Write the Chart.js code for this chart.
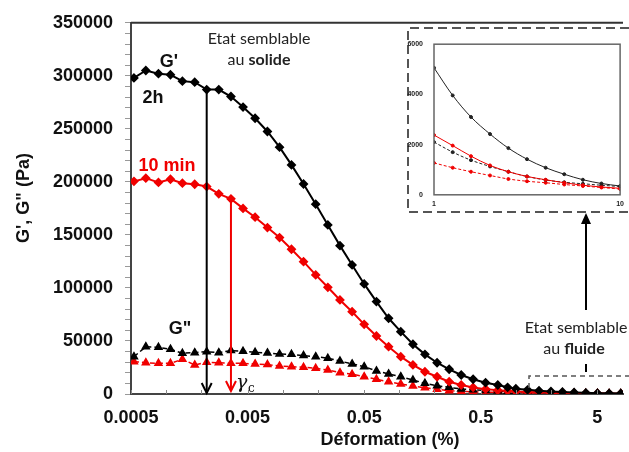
<!DOCTYPE html>
<html>
<head>
<meta charset="utf-8">
<script src="https://cdn.jsdelivr.net/npm/chart.js@4.4.0/dist/chart.umd.min.js"></script>
<style>
  html, body { margin: 0; padding: 0; background: #fff; }
  #wrap { position: relative; width: 629px; height: 452px; overflow: hidden; }
  #mainChart { position: absolute; left: 0; top: 0; }
  #insetChart { position: absolute; left: 400px; top: 29px; }
</style>
</head>
<body>
<div id="wrap">
  <canvas id="mainChart" width="629" height="452"></canvas>
  <canvas id="insetChart" width="229" height="181"></canvas>
</div>
<script>
// Déformation (%) - abscisse commune aux 4 courbes
var deformation = [0.00053, 0.00067, 0.00086, 0.00109, 0.00138, 0.00176, 0.00223, 0.00283, 0.0036, 0.00457,
    0.0058, 0.0074, 0.0094, 0.0119, 0.0151, 0.0192, 0.0244, 0.031, 0.0394, 0.05,
    0.0637, 0.081, 0.103, 0.131, 0.166, 0.211, 0.268, 0.34, 0.43, 0.55,
    0.70, 0.85, 1, 1.26, 1.58, 2, 2.51, 3.16, 3.98, 5.01, 6.31, 7.94, 10];

// G' (module élastique)
var gPrime2h = [298000, 305000, 302000, 301000, 295000, 294000, 287000, 287000, 280500, 270500,
    260000, 247500, 232700, 216000, 198000, 179000, 159400, 139900, 121700, 103800,
    87100, 71400, 58800, 46900, 37400, 29500, 23300, 17900, 13900, 10700,
    8500, 6300, 5060, 3960, 3100, 2420, 1860, 1420, 1080, 820, 600, 450, 350];
var gPrime10min = [200500, 203500, 199500, 202500, 198800, 197800, 195600, 188700, 184000, 175000,
    166700, 156900, 147500, 136500, 124800, 112300, 100600, 88700, 77600, 65700,
    54700, 44600, 35200, 27400, 21000, 16300, 11600, 8500, 6200, 4600,
    3500, 2900, 2380, 1960, 1540, 1170, 920, 730, 600, 480, 380, 310, 260];

// G'' (module visqueux)
var gSecond2h = [35200, 44600, 44000, 42200, 38400, 39000, 39900, 39000, 40900, 40300,
    39300, 38700, 37700, 37400, 36200, 35200, 33700, 31100, 28300, 25800,
    21700, 18900, 16300, 13200, 10100, 7800, 6300, 4700, 3900, 3300,
    2800, 2400, 2100, 1700, 1380, 1130, 920, 730, 590, 500, 440, 380, 330];
var gSecond10min = [30500, 29500, 28900, 28900, 32700, 27400, 29900, 29500, 28900, 28900,
    28300, 27700, 26400, 25800, 25200, 24200, 22600, 20100, 18600, 16300,
    13900, 11600, 9400, 7500, 5900, 4400, 3100, 2600, 2100, 1800,
    1600, 1400, 1270, 1080, 920, 770, 630, 540, 480, 410, 350, 290, 230];

// graduations
var xTickValues = [0.0005, 0.001, 0.002, 0.005, 0.01, 0.02, 0.05, 0.1, 0.2, 0.5, 1, 2, 5];
var xTickLabels = [0.0005, 0.005, 0.05, 0.5, 5];
var insetXTicks = [1, 10];

// indice du point critique (gamma c) pour chaque temps
var gammaIndex2h = 6;
var gammaIndex10min = 8;

var FONT = '"Liberation Sans", Arial, sans-serif';
var RED = '#f00000';

function pairs(values) {
    return deformation.map(function(d, i) { return { x: d, y: values[i] }; });
}

function insetPairs(values) {
    return pairs(values).filter(function(p) { return p.x >= 1 && p.x <= 10; });
}

function arrowDown(ctx, x, y1, y2, color) {
    ctx.strokeStyle = color;
    ctx.lineWidth = 2;
    ctx.beginPath();
    ctx.moveTo(x, y1);
    ctx.lineTo(x, y2);
    ctx.stroke();
    ctx.beginPath();
    ctx.moveTo(x - 5, y2 - 10);
    ctx.lineTo(x, y2);
    ctx.lineTo(x + 5, y2 - 10);
    ctx.stroke();
}

var annotations = {
    id: 'annotations',
    afterDraw: function(chart) {
        var ctx = chart.ctx;
        var area = chart.chartArea;
        var xs = chart.scales.x;
        var ys = chart.scales.y;
        ctx.save();

        // cadre haut
        ctx.strokeStyle = '#333';
        ctx.lineWidth = 2;
        ctx.beginPath();
        ctx.moveTo(area.left, area.top);
        ctx.lineTo(area.right, area.top);
        ctx.stroke();

        // petites graduations x vers l'intérieur
        ctx.strokeStyle = '#888';
        ctx.lineWidth = 1;
        xTickValues.forEach(function(v) {
            var px = Math.round(xs.getPixelForValue(v)) + 0.5;
            ctx.beginPath();
            ctx.moveTo(px, area.bottom);
            ctx.lineTo(px, area.bottom - 4);
            ctx.stroke();
        });

        // flèches gamma c
        var y0 = ys.getPixelForValue(0) - 1;
        arrowDown(ctx, xs.getPixelForValue(deformation[gammaIndex2h]), ys.getPixelForValue(gPrime2h[gammaIndex2h]), y0, '#000');
        arrowDown(ctx, xs.getPixelForValue(deformation[gammaIndex10min]), ys.getPixelForValue(gPrime10min[gammaIndex10min]), y0 - 2, RED);

        // étiquettes des courbes
        ctx.textAlign = 'center';
        ctx.textBaseline = 'middle';
        ctx.font = 'bold 18px ' + FONT;
        ctx.fillStyle = '#111';
        ctx.fillText("G'", 169, 62);
        ctx.fillText('2h', 153, 98);
        ctx.fillText('G"', 180, 329);
        ctx.fillStyle = RED;
        ctx.fillText('10 min', 167, 166);

        // gamma c
        ctx.fillStyle = '#111';
        ctx.textAlign = 'left';
        ctx.font = 'italic 19px "DejaVu Serif", serif';
        ctx.fillText('\u03b3', 236, 383);
        ctx.font = '12px "DejaVu Serif", serif';
        ctx.fillText('c', 248, 389);

        // états
        ctx.textAlign = 'center';
        ctx.fillStyle = '#222';
        ctx.font = '16px Lato, sans-serif';
        ctx.fillText('Etat semblable', 259, 39);
        ctx.fillText('Etat semblable', 576, 328);
        var w1 = ctx.measureText('au ').width;
        ctx.font = 'bold 16px Lato, sans-serif';
        var w2 = ctx.measureText('solide').width;
        var w3 = ctx.measureText('fluide').width;
        ctx.textAlign = 'left';
        ctx.font = '16px Lato, sans-serif';
        ctx.fillText('au ', 259 - (w1 + w2) / 2, 60);
        ctx.fillText('au ', 574 - (w1 + w3) / 2, 349);
        ctx.font = 'bold 16px Lato, sans-serif';
        ctx.fillText('solide', 259 - (w1 + w2) / 2 + w1, 60);
        ctx.fillText('fluide', 574 - (w1 + w3) / 2 + w1, 349);

        // titres des axes
        ctx.fillStyle = '#111';
        ctx.font = 'bold 18px ' + FONT;
        ctx.textAlign = 'center';
        ctx.fillText('Déformation (%)', 390, 440);
        ctx.save();
        ctx.translate(24, 198);
        ctx.rotate(-Math.PI / 2);
        ctx.fillText('G\', G" (Pa)', 0, 0);
        ctx.restore();

        // flèche vers l'encart
        ctx.strokeStyle = '#000';
        ctx.lineWidth = 2;
        ctx.beginPath();
        ctx.moveTo(586, 310);
        ctx.lineTo(586, 222);
        ctx.stroke();
        ctx.fillStyle = '#000';
        ctx.beginPath();
        ctx.moveTo(586, 213);
        ctx.lineTo(581, 224);
        ctx.lineTo(591, 224);
        ctx.closePath();
        ctx.fill();
        ctx.beginPath();
        ctx.moveTo(586, 364);
        ctx.lineTo(586, 372);
        ctx.stroke();

        // cadres pointillés
        ctx.strokeStyle = '#555';
        ctx.lineWidth = 1.5;
        ctx.setLineDash([5, 4]);
        ctx.beginPath();
        ctx.moveTo(529, 388);
        ctx.lineTo(529, 376);
        ctx.lineTo(629, 376);
        ctx.stroke();
        ctx.lineWidth = 2;
        ctx.setLineDash([9, 5]);
        ctx.beginPath();
        ctx.moveTo(629, 28);
        ctx.lineTo(408, 28);
        ctx.lineTo(408, 212);
        ctx.lineTo(629, 212);
        ctx.stroke();

        ctx.restore();
    }
};

var mainChart = new Chart(document.getElementById('mainChart').getContext('2d'), {
    type: 'line',
    data: {
        datasets: [{
            label: "G' 2h",
            data: pairs(gPrime2h),
            borderColor: '#000',
            backgroundColor: '#000',
            borderWidth: 2,
            pointStyle: 'rectRot',
            pointRadius: 3.5
        }, {
            label: "G' 10 min",
            data: pairs(gPrime10min),
            borderColor: RED,
            backgroundColor: RED,
            borderWidth: 2,
            pointStyle: 'rectRot',
            pointRadius: 3.5
        }, {
            label: 'G" 2h',
            data: pairs(gSecond2h),
            borderColor: '#000',
            backgroundColor: '#000',
            borderWidth: 1.5,
            borderDash: [5, 3],
            pointStyle: 'triangle',
            pointRadius: 4
        }, {
            label: 'G" 10 min',
            data: pairs(gSecond10min),
            borderColor: RED,
            backgroundColor: RED,
            borderWidth: 1.5,
            borderDash: [5, 3],
            pointStyle: 'triangle',
            pointRadius: 4
        }]
    },
    options: {
        responsive: false,
        animation: false,
        devicePixelRatio: 1,
        layout: { padding: { top: 21, right: 0, left: 0, bottom: 0 } },
        plugins: { legend: { display: false }, tooltip: { enabled: false } },
        scales: {
            x: {
                type: 'logarithmic',
                min: 0.0005,
                max: 8.3,
                afterBuildTicks: function(scale) {
                    scale.ticks = xTickValues.map(function(v) { return { value: v }; });
                },
                afterFit: function(scale) { scale.height = 58; },
                grid: { display: false, drawTicks: false },
                border: { display: true, color: '#444', width: 2 },
                ticks: {
                    autoSkip: false,
                    maxRotation: 0,
                    padding: 13,
                    color: '#111',
                    font: { family: FONT, size: 18, weight: 'bold' },
                    callback: function(value) {
                        return xTickLabels.indexOf(value) >= 0 ? String(value) : '';
                    }
                }
            },
            y: {
                min: 0,
                max: 350000,
                afterFit: function(scale) { scale.width = 131; },
                grid: { display: true, drawOnChartArea: false, drawTicks: true, tickLength: 6, color: '#999' },
                border: { display: true, color: '#444', width: 2 },
                ticks: {
                    stepSize: 10000,
                    maxTicksLimit: 40,
                    autoSkip: false,
                    padding: 12,
                    color: '#111',
                    font: { family: FONT, size: 18, weight: 'bold' },
                    callback: function(value) {
                        return value % 50000 === 0 ? String(value) : '';
                    }
                }
            }
        }
    },
    plugins: [annotations]
});

// Encart : zoom sur la zone fluide
var insetFrame = {
    id: 'insetFrame',
    afterDraw: function(chart) {
        var ctx = chart.ctx, a = chart.chartArea;
        ctx.save();
        ctx.strokeStyle = '#666';
        ctx.lineWidth = 1.5;
        ctx.strokeRect(a.left, a.top, a.right - a.left, a.bottom - a.top);
        ctx.restore();
    }
};

var insetChart = new Chart(document.getElementById('insetChart').getContext('2d'), {
    type: 'line',
    data: {
        datasets: [{
            data: insetPairs(gPrime2h),
            borderColor: '#222', backgroundColor: '#222',
            borderWidth: 1, pointRadius: 1.5, cubicInterpolationMode: 'monotone'
        }, {
            data: insetPairs(gPrime10min),
            borderColor: RED, backgroundColor: RED,
            borderWidth: 1, pointRadius: 1.5, cubicInterpolationMode: 'monotone'
        }, {
            data: insetPairs(gSecond2h),
            borderColor: '#222', backgroundColor: '#222', borderDash: [3, 2],
            borderWidth: 1, pointRadius: 1.5, cubicInterpolationMode: 'monotone'
        }, {
            data: insetPairs(gSecond10min),
            borderColor: RED, backgroundColor: RED, borderDash: [3, 2],
            borderWidth: 1, pointRadius: 1.5, cubicInterpolationMode: 'monotone'
        }]
    },
    options: {
        responsive: false,
        animation: false,
        devicePixelRatio: 1,
        layout: { padding: { top: 8, right: 3, left: 0, bottom: 0 } },
        plugins: { legend: { display: false }, tooltip: { enabled: false } },
        scales: {
            x: {
                type: 'logarithmic',
                min: 1,
                max: 10,
                afterBuildTicks: function(scale) {
                    scale.ticks = insetXTicks.map(function(v) { return { value: v }; });
                },
                afterFit: function(scale) { scale.height = 14; },
                grid: { display: false, drawTicks: false },
                border: { display: false },
                ticks: {
                    autoSkip: false, maxRotation: 0, padding: 5, color: '#222',
                    font: { family: FONT, size: 7, weight: 'bold' },
                    callback: function(value) { return String(value); }
                }
            },
            y: {
                min: 0,
                max: 6000,
                afterFit: function(scale) { scale.width = 34; },
                grid: { display: false, drawTicks: false },
                border: { display: false },
                ticks: {
                    stepSize: 2000, padding: 11, color: '#222',
                    font: { family: FONT, size: 7, weight: 'bold' },
                    callback: function(value) { return String(value); }
                }
            }
        }
    },
    plugins: [insetFrame]
});
</script>
</body>
</html>
